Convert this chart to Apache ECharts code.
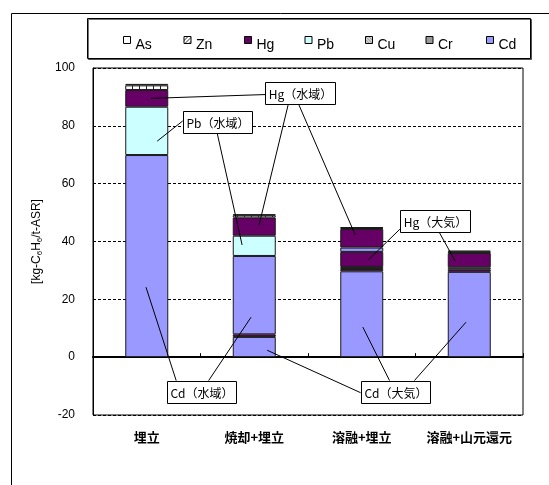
<!DOCTYPE html>
<html>
<head>
<meta charset="utf-8">
<script src="https://cdn.jsdelivr.net/npm/echarts@6/dist/echarts.min.js"></script>
<style>
  html, body { margin: 0; padding: 0; background: #fff; }
  #chart { width: 549px; height: 485px; }
</style>
</head>
<body>
<div id="chart"></div>
<script>
// Treatment routes on the category axis
const categories = ['埋立', '焼却+埋立', '溶融+埋立', '溶融+山元還元'];

// Stacked components in kg-C6H6/t-ASR, listed from the bottom of each bar upward
const cdAir   = [null, 7.0, 29.7, 29.5];
const hgBase  = [null, 0.9, 0.8, 0.9];
const crAir   = [null, null, 0.7, 0.7];
const hgAir   = [null, null, 5.2, 4.9];
const cdWater = [69.9, 27.1, 1.5, null];
const pbWater = [16.7, 7.0, null, null];
const hgWater = [5.8, 6.3, 6.4, null];
const cuVals  = [null, null, null, null];
const znVals  = [1.6, 0.8, 0.4, 0.5];
const asVals  = [0.5, 0.3, 0.2, 0.3];

// Value axis range and step
const yMin = -20;
const yMax = 100;
const yStep = 20;

// Legend order
const legendNames = ['As', 'Zn', 'Hg', 'Pb', 'Cu', 'Cr', 'Cd'];

// Callout labels: box centre (category position, value) and the points they point to
const callouts = [
  { text: 'Hg（水域）', at: [1.43, 91.2],
    links: [ { from: [-1, 0.1],  to: [0.04, 89.5] },
             { from: [-0.35, 1], to: [1.045, 45.7] },
             { from: [-0.05, 1], to: [1.94, 42.2] } ] },
  { text: 'Pb（水域）', at: [0.655, 81.3],
    links: [ { from: [-1, -0.1], to: [0.097, 74.7] },
             { from: [0, 1],     to: [0.887, 38.8] } ] },
  { text: 'Hg（大気）', at: [2.68, 47.1],
    links: [ { from: [-1, 0.75], to: [2.06, 33.6] },
             { from: [0.12, 1],  to: [2.87, 33.2] } ] },
  { text: 'Cd（水域）', at: [0.505, -11.9],
    links: [ { from: [-0.72, -1], to: [-0.007, 24.2] },
             { from: [0.22, -1],  to: [0.97, 13.8] } ] },
  { text: 'Cd（大気）', at: [2.31, -11.9],
    links: [ { from: [-1, 0.1],   to: [1.12, 2.4] },
             { from: [-0.16, -1], to: [2.01, 10.4] },
             { from: [0.56, -1],  to: [2.97, 12.1] } ] }
];

const LATIN = "'Liberation Sans', 'Noto Sans CJK JP', sans-serif";
const CJK = "'Noto Sans CJK JP', 'Liberation Sans', sans-serif";

const CD = '#9999ff';
const PB = '#ccffff';
const HG = '#660066';
const CR = '#6b8282';

function pattern(size, draw) {
  const c = document.createElement('canvas');
  c.width = size; c.height = size;
  const g = c.getContext('2d');
  draw(g, size);
  return { image: c, repeat: 'repeat' };
}

// Zn fill: white cells split by thin dark rules
const znFill = pattern(7, (g, s) => {
  g.fillStyle = '#fff'; g.fillRect(0, 0, s, s);
  g.fillStyle = '#222'; g.fillRect(s - 1, 0, 1, s);
});
// Legend swatch fills
const znIcon = pattern(4, (g, s) => {
  g.fillStyle = '#fff'; g.fillRect(0, 0, s, s);
  g.strokeStyle = '#333'; g.lineWidth = 1;
  g.beginPath(); g.moveTo(0, s); g.lineTo(s, 0); g.stroke();
});
const cuIcon = pattern(3, (g, s) => {
  g.fillStyle = '#fff'; g.fillRect(0, 0, s, s);
  g.fillStyle = '#444';
  for (let i = 0; i < s; i++) g.fillRect(i, i, 1, 1);
});
const crIcon = pattern(2, (g) => {
  g.fillStyle = '#fff'; g.fillRect(0, 0, 2, 2);
  g.fillStyle = '#333'; g.fillRect(0, 0, 1, 1); g.fillRect(1, 1, 1, 1);
});

const layers = [
  { name: 'Cd', data: cdAir,   color: CD },
  { name: 'Hg', data: hgBase,  color: HG },
  { name: 'Cr', data: crAir,   color: CR },
  { name: 'Hg', data: hgAir,   color: HG },
  { name: 'Cd', data: cdWater, color: CD },
  { name: 'Pb', data: pbWater, color: PB },
  { name: 'Hg', data: hgWater, color: HG },
  { name: 'Cu', data: cuVals,  color: '#888' },
  { name: 'Zn', data: znVals,  color: znFill },
  { name: 'As', data: asVals,  color: '#fff' }
];

const legendStyles = {
  As: { color: '#fff' },
  Zn: { color: znIcon },
  Hg: { color: HG },
  Pb: { color: PB },
  Cu: { color: cuIcon },
  Cr: { color: crIcon },
  Cd: { color: CD }
};

const chart = echarts.init(document.getElementById('chart'), null, { renderer: 'canvas' });

const option = {
  animation: false,
  backgroundColor: '#fff',
  grid: {
    left: 93, top: 68, width: 430, height: 347,
    show: true, borderColor: '#000', borderWidth: 1, backgroundColor: '#fff'
  },
  legend: {
    data: legendNames.map(n => ({
      name: n,
      itemStyle: Object.assign({ borderColor: '#000', borderWidth: 1 }, legendStyles[n])
    })),
    left: 123, top: 28,
    padding: 0,
    icon: 'rect',
    itemWidth: 7, itemHeight: 7, itemGap: 0,
    selectedMode: false,
    formatter: '{t|{name}}',
    textStyle: {
      fontFamily: LATIN, fontSize: 14, color: '#000',
      rich: { t: { fontFamily: LATIN, fontSize: 14, color: '#000', width: 48, lineHeight: 14, padding: [10, 0, 0, 0] } }
    }
  },
  xAxis: {
    type: 'category',
    data: categories,
    axisLine: { onZero: true, lineStyle: { color: '#000', width: 2 } },
    axisTick: { show: true, inside: true, length: 4, lineStyle: { color: '#000' } },
    axisLabel: { interval: 0, margin: 16, fontFamily: CJK, fontSize: 13, fontWeight: 'bold', color: '#000' },
    splitLine: { show: false }
  },
  yAxis: {
    type: 'value',
    min: yMin, max: yMax, interval: yStep,
    name: '[kg-C{s|6}H{s|6}/t-ASR]',
    nameLocation: 'middle',
    nameGap: 48,
    nameTextStyle: {
      fontFamily: LATIN, fontSize: 12, color: '#000', lineHeight: 14,
      rich: { s: { fontFamily: LATIN, fontSize: 8, color: '#000', verticalAlign: 'bottom', lineHeight: 14, padding: [4, 0, 0, 0] } }
    },
    axisLine: { show: true, lineStyle: { color: '#000' } },
    axisTick: { show: false },
    axisLabel: { margin: 18, fontFamily: LATIN, fontSize: 12, color: '#000' },
    splitLine: { show: true, lineStyle: { color: '#000', type: [3, 2], width: 1 } }
  },
  series: layers.map(l => ({
    name: l.name,
    type: 'bar',
    stack: 'total',
    barWidth: 43,
    data: l.data,
    itemStyle: { color: l.color, borderColor: '#1a1a1a', borderWidth: 1 },
    emphasis: { disabled: true },
    silent: true
  }))
};

chart.setOption(option);

function toPixel(cat, val) {
  const x0 = chart.convertToPixel({ xAxisIndex: 0 }, categories[0]);
  const x1 = chart.convertToPixel({ xAxisIndex: 0 }, categories[1]);
  const y = chart.convertToPixel({ yAxisIndex: 0 }, val);
  return [x0 + cat * (x1 - x0), y];
}

function buildGraphics() {
  const els = [];
  // outer frame and legend box
  els.push({ type: 'rect', silent: true, z: -10,
    shape: { x: 11.5, y: 13.5, width: 700, height: 700 },
    style: { fill: '#fff', stroke: '#000', lineWidth: 1 } });
  els.push({ type: 'rect', silent: true, z: -5,
    shape: { x: 87.5, y: 18.5, width: 443, height: 40 },
    style: { fill: '#fff', stroke: '#000', lineWidth: 1,
             shadowColor: 'rgba(0,0,0,0.55)', shadowOffsetX: 1, shadowOffsetY: 1, shadowBlur: 0 } });

  const font = '12px ' + CJK;
  const mctx = document.createElement('canvas').getContext('2d');
  mctx.font = font;
  const boxH = 22;

  callouts.forEach(c => {
    const [cx, cy] = toPixel(c.at[0], c.at[1]);
    const w = Math.round(mctx.measureText(c.text).width + 6);
    const hw = w / 2, hh = boxH / 2;
    c.links.forEach(l => {
      const [tx, ty] = toPixel(l.to[0], l.to[1]);
      const fx = cx + l.from[0] * hw;
      const fy = cy + l.from[1] * hh;
      els.push({ type: 'line', silent: true, z: 20,
        shape: { x1: fx, y1: fy, x2: tx, y2: ty },
        style: { stroke: '#000', lineWidth: 1 } });
    });
    const bx = Math.round(cx - hw) + 0.5;
    const by = Math.round(cy - hh) + 0.5;
    els.push({ type: 'rect', silent: true, z: 21,
      shape: { x: bx, y: by, width: w, height: boxH },
      style: { fill: '#fff', stroke: '#000', lineWidth: 1 } });
    els.push({ type: 'text', silent: true, z: 22,
      x: bx + w / 2, y: by + boxH / 2 + 0.5,
      style: { text: c.text, font: font, fill: '#000',
               align: 'center', verticalAlign: 'middle',
               textAlign: 'center', textVerticalAlign: 'middle' } });
  });
  return els;
}

chart.setOption({ graphic: { elements: buildGraphics() } });
</script>
</body>
</html>
